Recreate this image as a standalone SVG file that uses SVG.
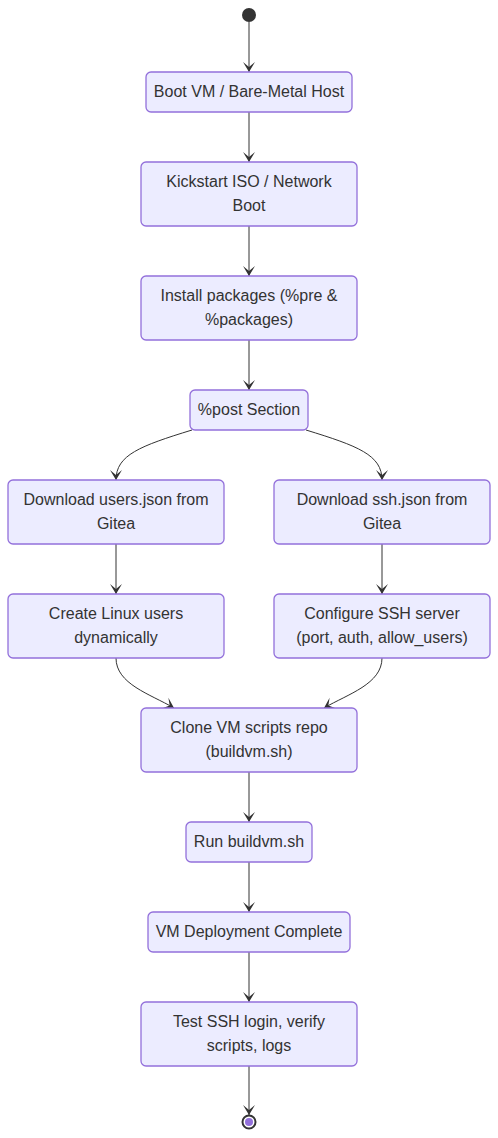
<svg xmlns="http://www.w3.org/2000/svg" width="498" height="1138" viewBox="0 0 498 1138">
<style>
.n{fill:#ECECFF;stroke:#9370DB;stroke-width:1.3}
.t{font-family:"Liberation Sans",Arial,sans-serif;font-size:16px;fill:#333;text-anchor:middle}
.e{fill:none;stroke:#333;stroke-width:1}
</style>
<defs>
<marker id="barb" markerWidth="20" markerHeight="14" refX="19" refY="7" orient="auto" markerUnits="userSpaceOnUse">
<path d="M19,7 L9,13 L14,7 L9,1 Z" fill="#333"/>
</marker>
</defs>
<rect width="498" height="1138" fill="#fff"/>
<g id="edges">
<path class="e" d="M249,22 L249,72" marker-end="url(#barb)"/>
<path class="e" d="M249,112 L249,162" marker-end="url(#barb)"/>
<path class="e" d="M249,226 L249,276" marker-end="url(#barb)"/>
<path class="e" d="M249,340 L249,390" marker-end="url(#barb)"/>
<path class="e" d="M192,430 C140,446 116,455 116,480" marker-end="url(#barb)"/>
<path class="e" d="M306,430 C358,446 382,455 382,480" marker-end="url(#barb)"/>
<path class="e" d="M116,544 L116,594" marker-end="url(#barb)"/>
<path class="e" d="M382,544 L382,594" marker-end="url(#barb)"/>
<path class="e" d="M116,658 C116,684 150,694 174,708" marker-end="url(#barb)"/>
<path class="e" d="M382,658 C382,684 348,694 324,708" marker-end="url(#barb)"/>
<path class="e" d="M249,772 L249,822" marker-end="url(#barb)"/>
<path class="e" d="M249,862 L249,912" marker-end="url(#barb)"/>
<path class="e" d="M249,952 L249,1002" marker-end="url(#barb)"/>
<path class="e" d="M249,1066 L249,1115" marker-end="url(#barb)"/>
</g>
<g id="start"><circle cx="249" cy="15" r="7" fill="#333"/></g>
<g id="n1"><rect class="n" x="146" y="72" width="206" height="40" rx="5"/><text class="t" x="249" y="97">Boot VM / Bare-Metal Host</text></g>
<g id="n2"><rect class="n" x="141" y="162" width="216" height="64" rx="5"/><text class="t" x="249" y="187">Kickstart ISO / Network</text><text class="t" x="249" y="211">Boot</text></g>
<g id="n3"><rect class="n" x="141" y="276" width="216" height="64" rx="5"/><text class="t" x="249" y="301">Install packages (%pre &amp;</text><text class="t" x="249" y="325">%packages)</text></g>
<g id="n4"><rect class="n" x="190" y="390" width="118" height="40" rx="5"/><text class="t" x="249" y="415">%post Section</text></g>
<g id="n5"><rect class="n" x="8" y="480" width="216" height="64" rx="5"/><text class="t" x="116" y="505">Download users.json from</text><text class="t" x="116" y="529">Gitea</text></g>
<g id="n6"><rect class="n" x="274" y="480" width="216" height="64" rx="5"/><text class="t" x="382" y="505">Download ssh.json from</text><text class="t" x="382" y="529">Gitea</text></g>
<g id="n7"><rect class="n" x="8" y="594" width="216" height="64" rx="5"/><text class="t" x="116" y="619">Create Linux users</text><text class="t" x="116" y="643">dynamically</text></g>
<g id="n8"><rect class="n" x="274" y="594" width="216" height="64" rx="5"/><text class="t" x="382" y="619">Configure SSH server</text><text class="t" x="382" y="643">(port, auth, allow_users)</text></g>
<g id="n9"><rect class="n" x="141" y="708" width="216" height="64" rx="5"/><text class="t" x="249" y="733">Clone VM scripts repo</text><text class="t" x="249" y="757">(buildvm.sh)</text></g>
<g id="n10"><rect class="n" x="186" y="822" width="126" height="40" rx="5"/><text class="t" x="249" y="847">Run buildvm.sh</text></g>
<g id="n11"><rect class="n" x="148" y="912" width="202" height="40" rx="5"/><text class="t" x="249" y="937">VM Deployment Complete</text></g>
<g id="n12"><rect class="n" x="141" y="1002" width="216" height="64" rx="5"/><text class="t" x="249" y="1027">Test SSH login, verify</text><text class="t" x="249" y="1051">scripts, logs</text></g>
<g id="end"><circle cx="249" cy="1122" r="6.5" fill="#fff" stroke="#333" stroke-width="2"/><circle cx="249" cy="1122" r="4" fill="#9370DB"/></g>
</svg>
